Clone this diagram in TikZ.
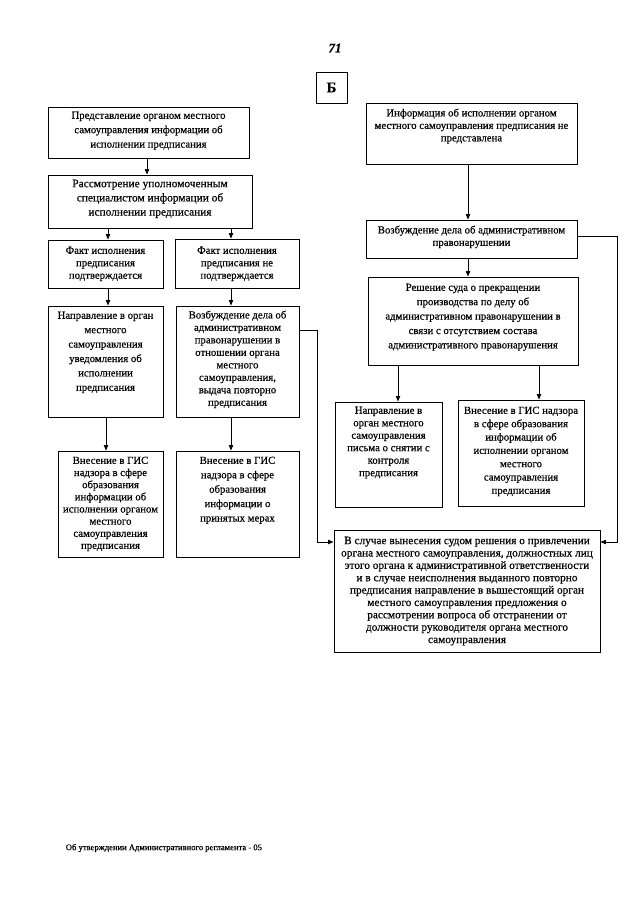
\documentclass[tikz,border=0pt]{standalone}
\usepackage{fontspec}
\setmainfont{Liberation Serif}[FakeBold=0.5]
\usetikzlibrary{arrows.meta,fit,calc}
\begin{document}
\begin{tikzpicture}[x=0.93pt,y=-0.93pt,
  frame/.style={draw,line width=0.9pt,inner sep=0pt},
  txt/.style={align=center,inner sep=0pt,anchor=north,font=\fontsize{10}{11.6}\selectfont},
  wide/.style={font=\fontsize{10}{13.4}\selectfont},
  arr/.style={line width=0.7pt,-{Triangle[length=5pt,width=4pt]}},
  ln/.style={line width=0.7pt}]
\useasboundingbox (0,0) rectangle (640,905);

% page number and letter
\node[font=\fontsize{12}{14}\selectfont\itshape\bfseries] (pg) at (335,48) {71};
\node[frame,fit={(316,72) (347,103)}] (bb) {};
\node[font=\fontsize{14}{16}\selectfont\bfseries] (bbt) at (bb.center) {Б};

% left column
\node[frame,fit={(48,107) (249,158)}] (a1) {};
\node[txt,wide] (a1t) at ($(a1.north)+(0,5)$) {Представление органом местного\\самоуправления информации об\\исполнении предписания};
\node[frame,fit={(48,175) (252,228)}] (a2) {};
\node[txt,font=\fontsize{10.6}{13.2}\selectfont] (a2t) at ($(a2.north)+(0,5)$) {Рассмотрение уполномоченным\\специалистом информации об\\исполнении предписания};
\node[frame,fit={(48,240) (163,288)}] (a3) {};
\node[txt] (a3t) at ($(a3.north)+(0,7)$) {Факт исполнения\\предписания\\подтверждается};
\node[frame,fit={(175,239) (299,288)}] (a4) {};
\node[txt] (a4t) at ($(a4.north)+(0,8)$) {Факт исполнения\\предписания не\\подтверждается};
\node[frame,fit={(48,306) (163,417)}] (a5) {};
\node[txt,wide] (a5t) at ($(a5.north)+(0,6)$) {Направление в орган\\местного\\самоуправления\\уведомления об\\исполнении\\предписания};
\node[frame,fit={(176,306) (299,417)}] (a6) {};
\node[txt] (a6t) at ($(a6.north)+(0,5)$) {Возбуждение дела об\\административном\\правонарушении в\\отношении органа\\местного\\самоуправления,\\выдача повторно\\предписания};
\node[frame,fit={(58,451) (163,557)}] (a7) {};
\node[txt,font=\fontsize{10}{11.3}\selectfont] (a7t) at ($(a7.north)+(0,6)$) {Внесение в ГИС\\надзора в сфере\\образования\\информации об\\исполнении органом\\местного\\самоуправления\\предписания};
\node[frame,fit={(176,451) (299,557)}] (a8) {};
\node[txt,wide] (a8t) at ($(a8.north)+(0,6)$) {Внесение в ГИС\\надзора в сфере\\образования\\информации о\\принятых мерах};

% right column
\node[frame,fit={(366,103) (577,164)}] (b1) {};
\node[txt] (b1t) at ($(b1.north)+(0,6)$) {Информация об исполнении органом\\местного самоуправления предписания не\\представлена};
\node[frame,fit={(366,220) (577,258)}] (b2) {};
\node[txt] (b2t) at ($(b2.north)+(0,6)$) {Возбуждение дела об административном\\правонарушении};
\node[frame,fit={(368,277) (578,365)}] (b3) {};
\node[txt,wide] (b3t) at ($(b3.north)+(0,7)$) {Решение суда о прекращении\\производства по делу об\\административном правонарушении в\\связи с отсутствием состава\\административного правонарушения};
\node[frame,fit={(335,402) (442,507)}] (b4) {};
\node[txt] (b4t) at ($(b4.north)+(0,5)$) {Направление в\\орган местного\\самоуправления\\письма о снятии с\\контроля\\предписания};
\node[frame,fit={(458,400) (584,506)}] (b5) {};
\node[txt,font=\fontsize{10}{12.4}\selectfont] (b5t) at ($(b5.north)+(0,7)$) {Внесение в ГИС надзора\\в сфере образования\\информации об\\исполнении органом\\местного\\самоуправления\\предписания};
\node[frame,fit={(334,530) (600,652)}] (b6) {};
\node[txt,font=\fontsize{10.5}{11.5}\selectfont] (b6t) at ($(b6.north)+(0,7)$) {В случае вынесения судом решения о привлечении\\органа местного самоуправления, должностных лиц\\этого органа к административной ответственности\\и в случае неисполнения выданного повторно\\предписания направление в вышестоящий орган\\местного самоуправления предложения о\\рассмотрении вопроса об отстранении от\\должности руководителя органа местного\\самоуправления};

% footer
\node[font=\fontsize{8}{10}\selectfont,anchor=west] (ft) at (62,848) {Об утверждении Административного регламента - 05};

% connector guide coordinates
\coordinate (xa) at (147,0);
\coordinate (xb) at (108,0);
\coordinate (xc) at (231,0);
\coordinate (xd) at (106,0);
\coordinate (xe) at (468,0);
\coordinate (xf) at (398,0);
\coordinate (xg) at (539,0);
\coordinate (ra) at (317,0);
\coordinate (rb) at (617,0);
\coordinate (ya) at (0,330);
\coordinate (yb) at (0,542);
\coordinate (yc) at (0,236);

% connectors
\draw[arr] (a1.south -| xa) -- (a2.north -| xa);
\draw[arr] (a2.south -| xb) -- (a3.north -| xb);
\draw[arr] (a2.south -| xc) -- (a4.north -| xc);
\draw[arr] (a3.south -| xb) -- (a5.north -| xb);
\draw[arr] (a4.south -| xc) -- (a6.north -| xc);
\draw[arr] (a5.south -| xd) -- (a7.north -| xd);
\draw[arr] (a6.south -| xc) -- (a8.north -| xc);
\draw[arr] (a6.east |- ya) -- (ra |- ya) -- (ra |- yb) -- (b6.west |- yb);

\draw[arr] (b1.south -| xe) -- (b2.north -| xe);
\draw[arr] (b2.south -| xe) -- (b3.north -| xe);
\draw[arr] (b3.south -| xf) -- (b4.north -| xf);
\draw[arr] (b3.south -| xg) -- (b5.north -| xg);
\draw[arr] (b2.east |- yc) -- (rb |- yc) -- (rb |- yb) -- (b6.east |- yb);
\end{tikzpicture}
\end{document}
